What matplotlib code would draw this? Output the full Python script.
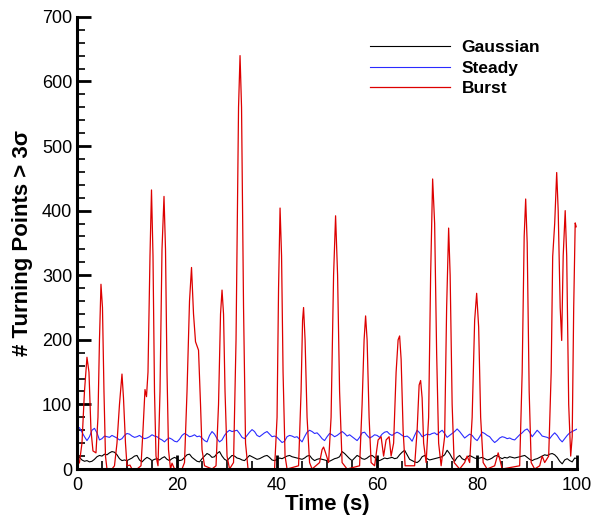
import numpy as np
import matplotlib.pyplot as plt
from matplotlib.ticker import MultipleLocator

plt.rcParams['font.family'] = ['Liberation Sans', 'DejaVu Sans']

# sampled every 0.5 s
time = np.arange(0, 100.5, 0.5)

steady = [
    65, 64, 57, 50, 44, 50, 60, 63, 56, 45, 47, 51, 50, 49, 52, 50, 48, 45, 47, 52,
    55, 54, 51, 49, 50, 52, 49, 47, 48, 50, 53, 51, 50, 47, 45, 42, 46, 48, 46, 43,
    42, 46, 52, 55, 53, 50, 51, 53, 50, 51, 48, 44, 42, 52, 58, 54, 47, 42, 45, 52,
    57, 60, 58, 59, 60, 55, 49, 47, 52, 57, 61, 58, 52, 50, 53, 56, 58, 54, 50, 51,
    49, 45, 41, 43, 50, 52, 51, 49, 50, 46, 42, 50, 57, 60, 58, 55, 56, 52, 47, 44,
    50, 55, 53, 50, 52, 55, 58, 55, 51, 53, 50, 47, 44, 49, 56, 57, 52, 48, 50, 53,
    52, 49, 54, 57, 58, 54, 52, 55, 57, 55, 52, 50, 51, 48, 43, 52, 60, 56, 50, 52,
    54, 53, 55, 56, 53, 57, 60, 55, 49, 52, 55, 58, 62, 58, 53, 48, 51, 54, 52, 47,
    44, 50, 57, 55, 52, 50, 45, 41, 44, 48, 50, 49, 47, 48, 46, 45, 49, 53, 56, 60,
    62, 57, 50, 55, 60, 56, 51, 50, 49, 47, 52, 56, 52, 46, 42, 47, 52, 56, 58, 60, 62,
]

gaussian = [
    16, 18, 14, 12, 13, 11, 12, 15, 19, 21, 20, 23, 22, 25, 27, 26, 22, 16, 13, 14,
    13, 15, 17, 20, 21, 14, 11, 15, 18, 16, 13, 15, 16, 14, 17, 19, 15, 13, 16, 18,
    16, 13, 14, 18, 22, 23, 18, 15, 12, 11, 16, 20, 24, 22, 18, 19, 24, 27, 20, 15,
    13, 17, 21, 20, 17, 16, 14, 13, 17, 21, 19, 17, 15, 16, 18, 20, 21, 18, 14, 13,
    15, 17, 16, 18, 20, 21, 19, 18, 17, 16, 15, 17, 20, 21, 16, 13, 15, 16, 15, 14,
    13, 12, 14, 16, 17, 19, 27, 24, 20, 16, 13, 17, 21, 19, 16, 15, 17, 20, 21, 18,
    14, 13, 15, 17, 16, 17, 18, 16, 17, 22, 26, 29, 22, 15, 13, 11, 10, 13, 19, 21,
    16, 14, 15, 16, 17, 18, 19, 22, 29, 24, 17, 12, 18, 21, 16, 14, 18, 21, 19, 17,
    16, 17, 18, 16, 14, 15, 17, 20, 21, 18, 16, 18, 17, 19, 18, 17, 18, 19, 20, 21,
    18, 15, 13, 15, 16, 18, 20, 22, 21, 23, 24, 22, 18, 12, 8, 14, 16, 13, 11, 17, 16,
]

burst_t = [
    0, 0.5, 1.0, 1.5, 2.0, 2.4, 2.8, 3.2, 3.8, 4.2, 4.5, 4.8, 5.1, 5.4, 5.7, 6.0,
    7.0, 7.5, 8.0, 8.5, 9.0, 9.3, 9.7, 10.0, 10.6, 11.0, 12.0, 12.8, 13.2, 13.6,
    13.9, 14.2, 14.6, 14.9, 15.2, 15.5, 15.8, 16.2, 16.6, 17.0, 17.4, 17.7, 18.0,
    18.3, 18.7, 19.0, 19.5, 21.0, 21.5, 22.0, 22.5, 22.9, 23.3, 23.7, 24.3, 24.7,
    25.0, 25.5, 27.0, 27.8, 28.3, 28.7, 29.0, 29.3, 29.6, 30.0, 30.5, 31.3, 31.8,
    32.3, 32.6, 32.9, 33.3, 33.7, 34.2, 39.5, 40.0, 40.3, 40.6, 40.9, 41.2, 41.6,
    42.0, 44.3, 44.8, 45.1, 45.3, 45.6, 46.0, 46.5, 47.0, 48.5, 49.0, 49.3, 49.7,
    50.3, 50.8, 51.3, 51.7, 52.1, 52.5, 53.0, 54.0, 56.5, 57.0, 57.4, 57.7, 58.0,
    58.4, 58.8, 59.5, 60.2, 60.8, 61.3, 61.8, 62.4, 62.8, 63.3, 63.8, 64.2, 64.5,
    64.8, 65.2, 65.6, 67.5, 68.0, 68.4, 68.7, 69.0, 69.3, 69.8, 70.3, 70.7, 71.1,
    71.5, 71.9, 72.3, 72.8, 73.5, 73.9, 74.3, 74.6, 75.0, 75.4, 76.5, 77.5, 78.0,
    78.5, 79.0, 79.5, 79.9, 80.3, 80.7, 81.2, 82.0, 83.5, 84.2, 85.0, 88.5, 89.0,
    89.4, 89.7, 90.0, 90.4, 90.8, 91.5, 92.5, 93.0, 93.5, 94.3, 94.8, 95.1, 95.5,
    95.9, 96.2, 96.6, 96.9, 97.2, 97.6, 97.9, 98.3, 98.7, 99.0, 99.3, 99.6, 99.8,
]
burst = [
    5, 10, 40, 120, 173, 150, 60, 28, 25, 80, 200, 286, 250, 120, 20, 0,
    0, 5, 40, 100, 147, 110, 40, 5, 6, 0, 0, 5, 60, 123,
    112, 150, 330, 432, 330, 120, 20, 5, 120, 340, 422, 340, 150,
    30, 0, 9, 0, 0, 10, 120, 260, 312, 240, 197, 184, 100,
    30, 5, 0, 5, 100, 240, 277, 240, 120, 20, 0, 10, 200,
    560, 640, 560, 250, 40, 0, 0, 80, 280, 404, 330, 150, 20,
    0, 5, 120, 230, 250, 200, 80, 10, 0, 10, 30, 34, 25,
    10, 80, 300, 392, 300, 120, 10, 0, 5, 100, 200, 237, 200,
    80, 10, 5, 45, 50, 20, 45, 50, 20, 40, 150, 200, 206,
    170, 60, 5, 5, 60, 130, 137, 110, 40, 10, 80, 300, 449,
    380, 180, 40, 5, 50, 250, 373, 300, 100, 10, 0, 10, 20,
    10, 80, 230, 272, 220, 80, 10, 0, 5, 25, 0, 5, 150,
    360, 418, 350, 120, 10, 0, 5, 20, 10, 20, 150, 329, 380,
    459, 400, 250, 199, 330, 400, 330, 100, 20, 50, 250, 381, 375,
]

fig = plt.figure(figsize=(5.92, 5.15), dpi=100)
ax = fig.add_axes([0.130, 0.0893, 0.845, 0.878])

ax.plot(time, gaussian, color='black', lw=0.8, label='Gaussian')
ax.plot(time, steady, color='#2b2bff', lw=0.8, label='Steady')
ax.plot(burst_t, burst, color='#dd0000', lw=0.9, label='Burst')

ax.set_xlim(0, 100)
ax.set_ylim(0, 700)
ax.xaxis.set_major_locator(MultipleLocator(20))
ax.xaxis.set_minor_locator(MultipleLocator(5))
ax.yaxis.set_major_locator(MultipleLocator(100))
ax.yaxis.set_minor_locator(MultipleLocator(20))
ax.tick_params(which='major', direction='in', length=10, width=2, labelsize=13)
ax.tick_params(which='minor', direction='in', length=6, width=1.2)
ax.tick_params(axis='x', pad=6)

for side in ['top', 'right']:
    ax.spines[side].set_visible(False)
for side in ['left', 'bottom']:
    ax.spines[side].set_linewidth(2.2)

ax.set_xlabel('Time (s)', fontsize=16, fontweight='bold', labelpad=0)
ax.set_ylabel('# Turning Points > 3\u03c3', fontsize=16, fontweight='bold', labelpad=6)

ax.legend(loc='upper left', bbox_to_anchor=(0.554, 0.983), frameon=False,
          handlelength=4.6, handletextpad=0.7, labelspacing=0.31,
          prop={'size': 12.5, 'weight': 'bold'})

plt.savefig('out.png', dpi=100)
